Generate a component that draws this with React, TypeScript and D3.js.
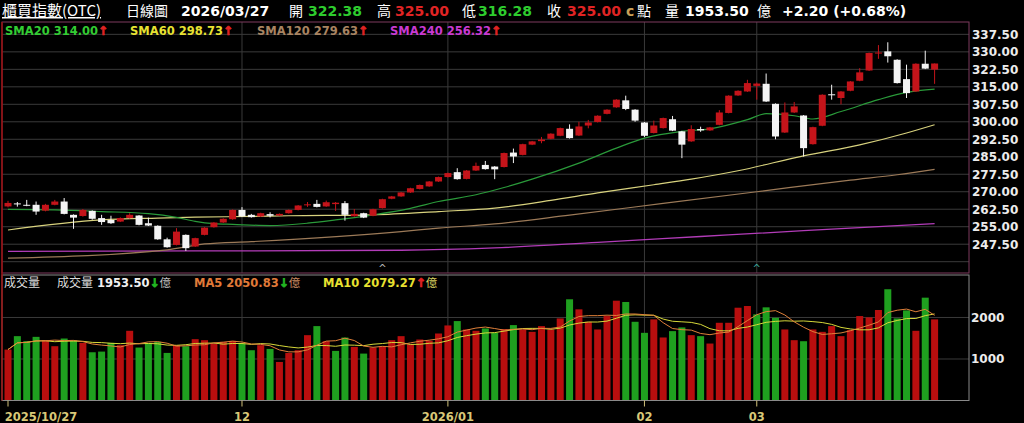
import React from 'react';
import * as d3 from 'd3';

const W = 1024;
const H = 423;

// daily OHLC, 2025/10/27 .. 2026/03/27
const openP = [
  263.7, 265.0, 264.4, 264.4, 261.9, 264.4, 265.8, 260.1, 259.6, 261.8,
  258.7, 257.9, 257.2, 258.7, 259.8, 256.5, 255.4, 249.6, 247.2, 251.5,
  246.5, 251.5, 254.8, 256.8, 258.2, 262.2, 260.1, 259.4, 260.4, 259.8,
  260.8, 262.2, 264.2, 264.8, 263.7, 264.7, 265.1, 259.5, 260.8, 259.7,
  263.0, 267.0, 268.0, 269.7, 271.2, 272.3, 274.4, 276.3, 278.4, 275.5,
  279.1, 281.5, 280.8, 280.6, 286.8, 285.8, 290.2, 291.7, 292.7, 294.0,
  297.0, 294.1, 298.4, 299.9, 303.4, 306.2, 309.2, 305.2, 299.7, 295.2,
  297.3, 301.1, 295.9, 291.6, 296.9, 296.3, 298.7, 303.8, 311.3, 313.0,
  315.4, 316.3, 307.7, 295.4, 304.0, 302.7, 290.4, 298.3, 311.8, 310.2,
  313.3, 317.6, 322.0, 329.3, 330.2, 326.6, 318.3, 313.0, 324.9, 322.38,
];
const highP = [
  266.1, 265.6, 266.5, 265.8, 264.8, 266.5, 267.3, 260.3, 262.6, 262.0,
  260.1, 259.7, 259.0, 260.8, 260.0, 258.9, 255.6, 250.3, 254.4, 251.7,
  250.3, 254.8, 257.0, 258.6, 262.4, 263.4, 260.5, 261.0, 261.2, 260.7,
  262.4, 264.3, 265.6, 266.5, 266.2, 265.6, 266.0, 262.6, 261.0, 262.7,
  267.0, 268.2, 269.9, 271.7, 273.1, 274.6, 276.5, 278.2, 280.1, 279.3,
  282.5, 283.2, 281.0, 286.8, 288.5, 290.6, 291.8, 293.5, 295.1, 297.5,
  298.9, 300.0, 300.8, 302.8, 305.4, 309.7, 311.2, 305.4, 299.9, 300.5,
  301.8, 302.5, 296.1, 298.5, 297.9, 297.8, 305.0, 311.4, 313.5, 318.0,
  316.8, 320.7, 307.9, 308.3, 308.5, 302.9, 297.9, 311.8, 315.9, 313.2,
  317.5, 323.0, 329.7, 332.9, 334.1, 326.8, 324.5, 325.1, 330.5, 325.0,
];
const lowP = [
  263.3, 263.6, 263.8, 260.1, 261.6, 264.2, 260.3, 254.1, 259.3, 258.0,
  255.8, 256.2, 257.0, 258.5, 255.6, 255.3, 249.4, 246.0, 247.0, 244.6,
  246.3, 251.3, 254.6, 256.6, 258.0, 259.2, 258.9, 259.2, 259.0, 259.6,
  260.6, 262.0, 263.5, 263.3, 263.5, 261.8, 257.6, 259.3, 258.7, 259.5,
  262.8, 266.8, 267.8, 269.5, 271.0, 272.1, 274.2, 276.1, 275.2, 275.3,
  278.9, 279.5, 275.4, 280.4, 282.3, 285.6, 290.0, 290.8, 292.5, 293.8,
  292.8, 293.9, 297.2, 299.7, 303.2, 306.0, 305.0, 300.0, 293.5, 295.0,
  297.1, 296.0, 284.4, 291.4, 295.7, 296.1, 298.5, 303.6, 311.1, 312.8,
  309.5, 308.5, 292.5, 295.2, 303.8, 285.1, 290.2, 298.1, 309.5, 307.5,
  313.1, 317.4, 321.8, 327.0, 325.4, 316.4, 310.2, 312.8, 322.6, 316.28,
];
const closeP = [
  265.2, 264.6, 264.0, 261.5, 264.4, 265.8, 260.5, 258.9, 262.2, 258.4,
  257.0, 256.5, 258.7, 260.1, 255.8, 255.5, 249.6, 246.2, 252.9, 245.8,
  250.1, 254.6, 256.8, 258.4, 262.2, 259.4, 259.1, 260.8, 259.7, 260.5,
  262.2, 264.1, 264.6, 263.5, 265.5, 265.3, 260.1, 260.5, 258.9, 262.5,
  266.8, 268.0, 269.7, 271.5, 272.9, 274.4, 276.3, 278.0, 275.4, 279.1,
  281.1, 279.7, 279.6, 286.6, 285.1, 290.4, 291.6, 292.4, 294.9, 297.3,
  293.0, 298.0, 299.7, 302.6, 305.2, 309.5, 305.5, 300.5, 294.0, 298.4,
  301.6, 296.2, 290.2, 296.9, 296.3, 297.6, 304.0, 311.2, 313.3, 316.6,
  316.4, 308.7, 293.7, 304.0, 306.6, 288.7, 297.7, 311.6, 311.8, 313.0,
  317.3, 321.2, 329.5, 329.7, 328.1, 316.6, 312.3, 324.9, 322.8, 325.0,
];
// 成交量 (億)
const volume = [
  1227, 1550, 1428, 1533, 1453, 1308, 1493, 1453, 1388, 1162,
  1178, 1388, 1332, 1679, 1275, 1388, 1412, 1146, 1332, 1308,
  1477, 1453, 1372, 1412, 1436, 1372, 1211, 1332, 1243, 928,
  1146, 1211, 1574, 1792, 1428, 1195, 1517, 1291, 1130, 1275,
  1308, 1453, 1550, 1356, 1469, 1436, 1614, 1808, 1913, 1711,
  1679, 1735, 1630, 1719, 1816, 1711, 1654, 1792, 1711, 1977,
  2438, 2196, 1896, 1711, 2034, 2404, 2373, 1896, 1630, 1954,
  1518, 1671, 1760, 1574, 1550, 1372, 1872, 1872, 2235, 2276,
  2075, 2244, 1993, 1711, 1453, 1428, 1711, 1654, 1792, 1550,
  1695, 2034, 2002, 2180, 2680, 1977, 2170, 1679, 2477, 1953.5,
];

// moving averages: [bar index, value]
const sma20: [number, number][] = [
  [0, 262.4], [5, 262.2], [10, 261.5], [15, 260.6], [18, 259.0], [20, 257.3],
  [22, 256.3], [24, 256.0], [28, 255.5], [32, 256.5], [35, 257.9], [39, 260.1],
  [43, 262.9], [46, 265.8], [50, 268.7], [53, 271.8], [56, 275.4], [61, 282.3],
  [65, 288.7], [68, 293.0], [72, 295.9], [75, 297.0], [79, 300.9], [81, 303.5],
  [84, 302.6], [86, 301.2], [89, 304.4], [93, 309.5], [96, 312.6], [99, 314.0],
];
const sma60: [number, number][] = [
  [0, 253.6], [10, 257.9], [16, 258.7], [20, 259.1], [26, 259.4], [30, 259.7],
  [39, 260.1], [46, 261.5], [52, 263.0], [58, 266.3], [63, 269.5], [69, 273.0],
  [73, 275.4], [78, 279.0], [85, 285.4], [91, 290.1], [96, 295.2], [99, 298.73],
];
const sma120: [number, number][] = [
  [0, 241.5], [17, 245.1], [21, 247.6], [26, 248.6], [42, 252.9], [46, 254.4],
  [52, 256.2], [60, 260.0], [70, 265.0], [80, 270.0], [90, 275.0], [95, 277.3],
  [99, 279.63],
];
const sma240: [number, number][] = [
  [0, 244.4], [20, 244.6], [42, 244.9], [52, 245.9], [63, 248.3], [74, 250.8],
  [85, 253.3], [99, 256.32],
];

const priceGrid = [240, 247.5, 255, 262.5, 270, 277.5, 285, 292.5, 300, 307.5, 315, 322.5, 330, 337.5];
const priceLabels = [247.5, 255, 262.5, 270, 277.5, 285, 292.5, 300, 307.5, 315, 322.5, 330, 337.5];
const volTicks = [1000, 2000];
const dateTickIdx = [0, 25, 47, 68, 80];
const dateTickLabels = ['2025/10/27', '12', '2026/01', '02', '03'];
const markerIdx = [40, 80];

const NUM = '"DejaVu Sans", Verdana, sans-serif';
const CJK = '"Noto Sans CJK TC", "Noto Sans CJK SC", sans-serif';
const RED = '#c4141a';
const GREEN = '#1fa01f';
const ARROW_UP = '#e02424';
const ARROW_DN = '#22b822';

const movingAvg = (arr: number[], n: number) =>
  arr.map((_, i) => d3.mean(arr.slice(Math.max(0, i - n + 1), i + 1)) as number);

// thick arrow glyph used after legend values
const Arrow = ({ c, down }: { c: string; down?: boolean }) => (
  <tspan fill={c} stroke={c} strokeWidth={0.7} fontSize={12}>{down ? '↓' : '↑'}</tspan>
);

export default function App() {
  const left = 2;
  const right = 969;
  const pTop = 22;
  const pBottom = 273;
  const vTop = 275;
  const vBottom = 400.5;

  const x = d3.scaleLinear().domain([0, 99]).range([8, 934.6]);
  const yP = d3.scaleLinear().domain([235.15, 342.8]).range([pBottom, pTop]);
  const yV = d3.scaleLinear().domain([0, 3023]).range([vBottom, vTop]);

  const maLine = d3.line<[number, number]>()
    .x(d => x(d[0]))
    .y(d => yP(d[1]))
    .curve(d3.curveMonotoneX);

  const vma5 = movingAvg(volume, 5);
  const vma10 = movingAvg(volume, 10);
  const vLine = d3.line<number>()
    .x((_, i) => x(i))
    .y(d => yV(d));

  const bodyW = 7;
  const barW = 7;

  return (
    <svg width={W} height={H} style={{ position: 'fixed', left: 0, top: 0, background: '#000' }}>
      <rect x={0} y={0} width={W} height={H} fill="#000" />

      {/* header */}
      <g fontSize={14} fill="#fff">
        <text x={2} y={16} fontFamily={CJK} fontSize={15} textDecoration="underline">櫃買指數(OTC)</text>
        <text x={126} y={16} fontFamily={CJK}>日線圖</text>
        <text x={181} y={16} fontFamily={NUM} fontWeight="bold">2026/03/27</text>
        <text x={289} y={16} fontFamily={CJK}>開</text>
        <text x={308} y={16} fontFamily={NUM} fontWeight="bold" fill="#2ecc2e">322.38</text>
        <text x={377} y={16} fontFamily={CJK}>高</text>
        <text x={395} y={16} fontFamily={NUM} fontWeight="bold" fill="#e02424">325.00</text>
        <text x={462} y={16} fontFamily={CJK}>低</text>
        <text x={478} y={16} fontFamily={NUM} fontWeight="bold" fill="#2ecc2e">316.28</text>
        <text x={547} y={16} fontFamily={CJK}>收</text>
        <text x={567} y={16} fontFamily={NUM} fontWeight="bold" fill="#e02424">325.00</text>
        <text x={626} y={16} fontFamily={NUM} fontWeight="bold" fill="#c8a058">c</text>
        <text x={637} y={16} fontFamily={CJK}>點</text>
        <text x={665} y={16} fontFamily={CJK}>量</text>
        <text x={685} y={16} fontFamily={NUM} fontWeight="bold">1953.50</text>
        <text x={757} y={16} fontFamily={CJK}>億</text>
        <text x={782} y={16} fontFamily={NUM} fontWeight="bold">+2.20 (+0.68%)</text>
      </g>

      {/* price grid */}
      {priceGrid.map(p => (
        <line key={p} x1={left} x2={right} y1={yP(p)} y2={yP(p)} stroke="#3a3a3a" strokeWidth={1} />
      ))}
      {dateTickIdx.slice(1).map(i => (
        <line key={i} x1={x(i)} x2={x(i)} y1={pTop} y2={pBottom} stroke="#3a3a3a" strokeWidth={1} />
      ))}

      {/* moving averages */}
      <path d={maLine(sma240) || ''} fill="none" stroke="#b23cb8" strokeWidth={1.3} />
      <path d={maLine(sma120) || ''} fill="none" stroke="#9c7a58" strokeWidth={1.2} />
      <path d={maLine(sma60) || ''} fill="none" stroke="#d8d27e" strokeWidth={1.2} />
      <path d={maLine(sma20) || ''} fill="none" stroke="#2a9a3a" strokeWidth={1.2} />

      {/* candles */}
      {closeP.map((c, i) => {
        const o = openP[i];
        const up = c > o;
        const col = up ? RED : '#f4f4f4';
        const yTop = yP(Math.max(o, c));
        const h = Math.max(1, Math.abs(yP(o) - yP(c)));
        return (
          <g key={i}>
            <line x1={x(i)} x2={x(i)} y1={yP(highP[i])} y2={yP(lowP[i])} stroke={col} strokeWidth={1} />
            <rect x={x(i) - bodyW / 2} y={yTop} width={bodyW} height={h} fill={col} />
          </g>
        );
      })}

      {/* event markers */}
      {markerIdx.map((i, k) => (
        <text key={i} x={x(i)} y={272} textAnchor="middle" fontFamily={NUM} fontSize={10}
          fill={k === 0 ? '#b8b8b8' : '#3aa59a'}>^</text>
      ))}

      {/* price legend */}
      <g fontFamily={NUM} fontWeight="bold" fontSize={11.5}>
        <text x={5} y={35} fill="#33cc33">SMA20 314.00<Arrow c={ARROW_UP} /></text>
        <text x={130} y={35} fill="#e8e232">SMA60 298.73<Arrow c={ARROW_UP} /></text>
        <text x={257} y={35} fill="#a88462">SMA120 279.63<Arrow c={ARROW_UP} /></text>
        <text x={390} y={35} fill="#c93ad2">SMA240 256.32<Arrow c={ARROW_UP} /></text>
      </g>

      {/* price axis labels */}
      {priceLabels.map(p => (
        <text key={p} x={972} y={yP(p)} dy="0.36em" fontFamily={NUM} fontWeight="bold" fontSize={12} fill="#ececec">
          {d3.format('.2f')(p)}
        </text>
      ))}

      {/* price panel frame */}
      <rect x={left} y={pTop} width={right - left} height={pBottom - pTop} fill="none" stroke="#7e3a5e" strokeWidth={1} />

      {/* volume grid */}
      {volTicks.map(v => (
        <line key={v} x1={left} x2={right} y1={yV(v)} y2={yV(v)} stroke="#3a3a3a" strokeWidth={1} />
      ))}
      {dateTickIdx.slice(1).map(i => (
        <line key={i} x1={x(i)} x2={x(i)} y1={vTop} y2={vBottom} stroke="#3a3a3a" strokeWidth={1} />
      ))}

      {/* volume bars */}
      {volume.map((v, i) => {
        const up = i === 0 ? closeP[i] > openP[i] : closeP[i] >= closeP[i - 1];
        return (
          <rect key={i} x={x(i) - barW / 2} y={yV(v)} width={barW} height={yV(0) - yV(v)}
            fill={up ? '#b80e0e' : GREEN} />
        );
      })}
      <path d={vLine(vma10) || ''} fill="none" stroke="#d6d83a" strokeWidth={1} />
      <path d={vLine(vma5) || ''} fill="none" stroke="#e0803a" strokeWidth={1} />

      {/* volume legend */}
      <g fontSize={11.5}>
        <text x={4} y={287} fontFamily={CJK} fontSize={12} fill="#dcdcdc">成交量</text>
        <text x={57} y={287} fontFamily={CJK} fontSize={12} fill="#dcdcdc">成交量</text>
        <text x={97} y={287} fontFamily={NUM} fontWeight="bold" fill="#f0f0f0">1953.50<Arrow c={ARROW_DN} down /><tspan fontFamily={CJK} fontWeight="normal" fill="#bdbdbd">億</tspan></text>
        <text x={194} y={287} fontFamily={NUM} fontWeight="bold" fill="#e07a38">MA5 2050.83<Arrow c={ARROW_DN} down /><tspan fontFamily={CJK} fontWeight="normal" fill="#c98a60">億</tspan></text>
        <text x={323} y={287} fontFamily={NUM} fontWeight="bold" fill="#e8e030">MA10 2079.27<Arrow c={ARROW_UP} /><tspan fontFamily={CJK} fontWeight="normal" fill="#d8d060">億</tspan></text>
      </g>

      {/* volume axis labels */}
      {volTicks.map(v => (
        <text key={v} x={971} y={yV(v)} dy="0.36em" fontFamily={NUM} fontWeight="bold" fontSize={12} fill="#ececec">{v}</text>
      ))}

      {/* volume panel frame */}
      <rect x={left} y={vTop} width={right - left} height={vBottom - vTop} fill="none" stroke="#8a8a8a" strokeWidth={1} />
      <line x1={left} x2={left} y1={pTop} y2={vBottom} stroke="#9a1010" strokeWidth={1.5} />

      {/* date axis */}
      {dateTickIdx.map((i, k) => {
        const label = dateTickLabels[k];
        const half = label.length * 3.6;
        const tx = Math.max(x(i), half + 5);
        return (
          <g key={i}>
            <line x1={x(i)} x2={x(i)} y1={vBottom} y2={vBottom + 6} stroke="#d2c27a" strokeWidth={1} />
            <text x={tx} y={421} textAnchor="middle" fontFamily={NUM} fontWeight="bold" fontSize={11.5} fill="#d8c878">{label}</text>
          </g>
        );
      })}
    </svg>
  );
}
